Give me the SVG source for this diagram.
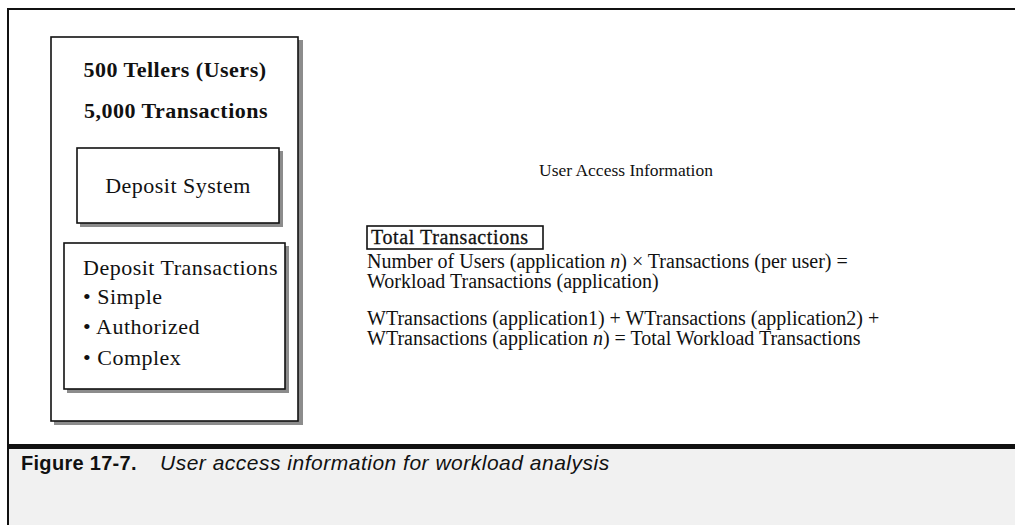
<svg xmlns="http://www.w3.org/2000/svg" width="1015" height="525" viewBox="0 0 1015 525">
<style>
.t{font-family:"Liberation Serif","Times New Roman",serif;font-size:20px;fill:#111}
.l{font-size:22px;letter-spacing:0.5px}
.b{font-weight:bold}
.i{font-style:italic}
.box{fill:#fff;stroke:#111;stroke-width:1.6}
.sh{fill:#8c8c8c}
.cap{font-family:"Liberation Sans",Arial,sans-serif;fill:#111}
</style>
<rect width="1015" height="525" fill="#fff"/>
<rect x="8" y="448" width="1007" height="77" fill="#f1f1f1"/>
<path d="M8,525 V9 H1015" fill="none" stroke="#111" stroke-width="2"/>
<rect x="8" y="444" width="1007" height="5" fill="#111"/>

<g id="tellers">
  <rect class="sh" x="54" y="40" width="249" height="385"/>
  <rect class="box" x="51" y="37" width="247" height="384"/>
  <text class="t l b" x="175" y="77" text-anchor="middle">500 Tellers (Users)</text>
  <text class="t l b" x="176" y="118" text-anchor="middle">5,000 Transactions</text>
</g>
<g id="deposit-system">
  <rect class="sh" x="80" y="151" width="203" height="76"/>
  <rect class="box" x="77" y="148" width="202" height="75"/>
  <text class="t l" x="178" y="193" text-anchor="middle">Deposit System</text>
</g>
<g id="deposit-transactions">
  <rect class="sh" x="67" y="246" width="222" height="147"/>
  <rect class="box" x="64" y="243" width="221" height="146"/>
  <text class="t l" x="83" y="275">Deposit Transactions</text>
  <text class="t l" x="83" y="304">• Simple</text>
  <text class="t l" x="83" y="334">• Authorized</text>
  <text class="t l" x="83" y="365">• Complex</text>
</g>
<g id="info">
  <text class="t" x="626" y="176" text-anchor="middle" style="font-size:17.5px">User Access Information</text>
  <rect x="367" y="226" width="176" height="23" fill="#fff" stroke="#111" stroke-width="1.6"/>
  <text class="t" x="371" y="244" stroke="#111" stroke-width="0.3" style="font-size:20px;letter-spacing:0.6px">Total Transactions</text>
  <text class="t" x="367" y="268">Number of Users (application <tspan class="i">n</tspan>) × Transactions (per user) =</text>
  <text class="t" x="367" y="288">Workload Transactions (application)</text>
  <text class="t" x="367" y="325">WTransactions (application1) + WTransactions (application2) +</text>
  <text class="t" x="367" y="345">WTransactions (application <tspan class="i">n</tspan>) = Total Workload Transactions</text>
</g>
<g id="caption">
  <text class="cap" x="21" y="470" font-size="20" font-weight="bold" letter-spacing="0.3">Figure 17-7.</text>
  <text class="cap" x="160" y="470" font-size="21" font-style="italic" letter-spacing="0.5">User access information for workload analysis</text>
</g>
<g id="connectors"/>
</svg>
